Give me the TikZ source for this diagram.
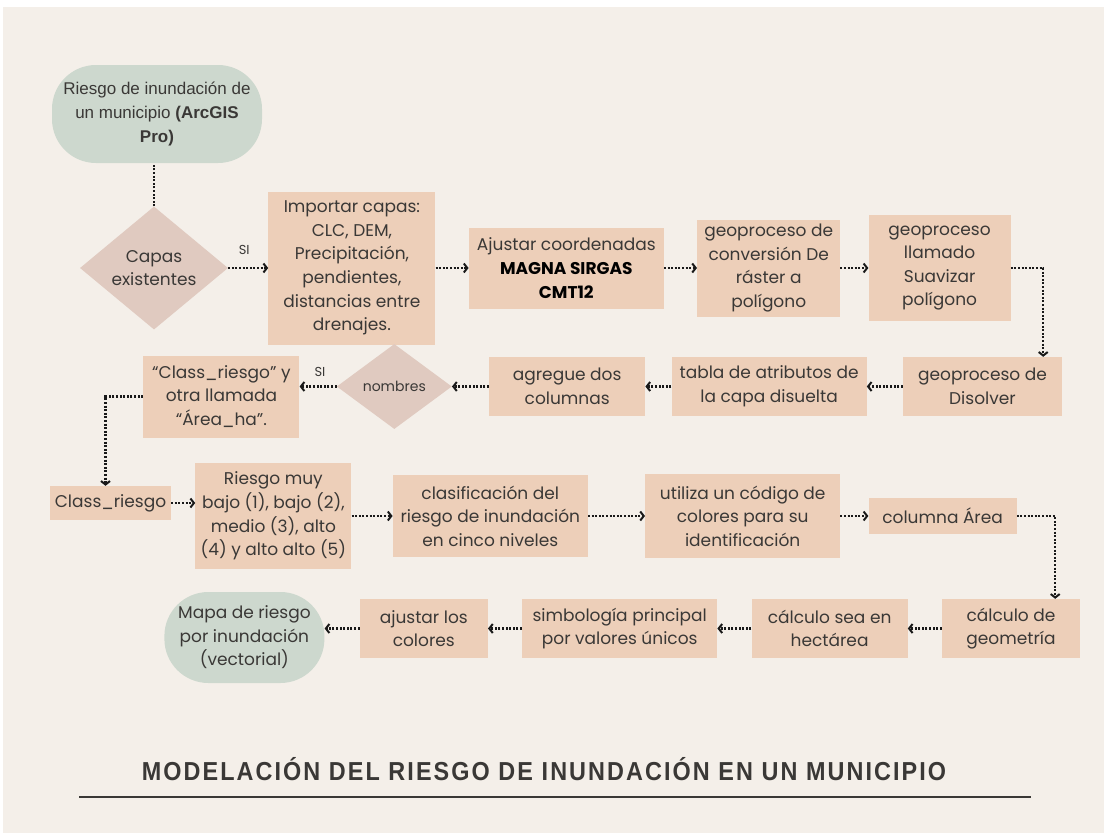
\documentclass[tikz,border=0pt]{standalone}
\usepackage{fontspec}
\setmainfont{Poppins}
\newfontfamily\arialfont{Liberation Sans}
\newfontfamily\titlefont[FakeStretch=0.9,LetterSpace=8]{Liberation Sans}
\usetikzlibrary{positioning, shapes.geometric, arrows.meta}
\definecolor{paper}{HTML}{F4EFE9}
\definecolor{peach}{HTML}{EDCFB9}
\definecolor{rose}{HTML}{E0CAC0}
\definecolor{sage}{HTML}{CDD8CE}
\definecolor{ink}{HTML}{3A3836}
\tikzset{process/.style={rectangle, fill=peach, text=ink, align=center, inner sep=0pt, font=\fontsize{17}{23.6}\selectfont},
         decision/.style={diamond, fill=rose, text=ink, align=center, inner sep=0pt, font=\fontsize{17}{23.6}\selectfont},
         startstop/.style={rectangle, rounded corners=44pt, fill=sage, text=ink, align=center, inner sep=0pt, font=\fontsize{17}{23.6}\selectfont},
         dotline/.style={line width=2.4pt, dash pattern=on 2pt off 1.6pt, draw=black!90},
         flow/.style={dotline, -{Straight Barb[length=3.5pt, width=9pt, line width=2pt]}},
         lbl/.style={text=ink, font=\fontsize{13}{15}\selectfont}}

\begin{document}
\begin{tikzpicture}[x=1pt, y=-1pt]
    \useasboundingbox (0,0) rectangle (1104,833);
    \fill[white] (0,0) rectangle (1104,833);
    \fill[paper] (3,7) rectangle (1104,833);
    % first row
    \node (start)[startstop, minimum width=210pt, minimum height=98pt] at (157,114){\arialfont Riesgo de inundación de\\ \arialfont un municipio \textbf{(ArcGIS}\\ \arialfont\bfseries Pro)};
    \node (capas)[decision, minimum width=148pt, minimum height=123pt] at (154,268){Capas\\existentes};
    \draw [dotline] (capas.north) -- (capas.north |- start.south);
    \node (import)[process, minimum width=167pt, minimum height=153pt, right=40pt of capas]{Importar capas:\\CLC, DEM,\\Precipitación,\\pendientes,\\distancias entre\\drenajes.};
    \draw [flow] (capas) -- node[lbl, above=9pt, pos=0.4]{SI} (import);
    \node (coord)[process, minimum width=195pt, minimum height=81pt, right=33pt of import]{Ajustar coordenadas\\\textbf{\color{black}MAGNA SIRGAS}\\\textbf{\color{black}CMT12}};
    \draw [flow] (import) -- (coord);
    \node (raster)[process, minimum width=143pt, minimum height=97pt, right=33pt of coord]{geoproceso de\\conversión De\\ráster a\\polígono};
    \draw [flow] (coord) -- (raster);
    \node (suave)[process, minimum width=142pt, minimum height=106pt, right=28pt of raster]{geoproceso\\llamado\\Suavizar\\polígono};
    \draw [flow] (raster) -- (suave);
    % second row
    \node (disolver)[process, minimum width=159pt, minimum height=59pt] at (982.5,386.5){geoproceso de\\Disolver};
    \draw [flow] (suave.east) -| ([xshift=-19pt]disolver.north east);
    \node (tabla)[process, minimum width=195pt, minimum height=59pt, left=36pt of disolver]{tabla de atributos de\\la capa disuelta};
    \draw [flow] (disolver) -- (tabla);
    \node (agregue)[process, minimum width=156pt, minimum height=59pt, left=26pt of tabla]{agregue dos\\columnas};
    \draw [flow] (tabla) -- (agregue);
    \node (nombres)[decision, minimum width=115pt, minimum height=85pt, left=37pt of agregue, font=\fontsize{14}{16}\selectfont]{nombres};
    \draw [flow] (agregue) -- (nombres);
    \node (dosnombres)[process, minimum width=156pt, minimum height=82pt, left=37pt of nombres, yshift=-10pt]{“Class\_riesgo” y\\otra llamada\\“Área\_ha”.};
    \draw [flow] (nombres.west) -- node[lbl, above=5pt, pos=0.45]{SI} (nombres.west -| dosnombres.east);
    % third row
    \node (clase)[process, minimum width=121pt, minimum height=34pt] at (110.5,503){Class\_riesgo};
    \draw [flow] (dosnombres.west) -| ([xshift=-5pt]clase.north);
    \node (niveles)[process, minimum width=156pt, minimum height=106pt, right=24pt of clase, yshift=-13pt]{Riesgo muy\\bajo (1), bajo (2),\\medio (3), alto\\(4) y alto alto (5)};
    \draw [flow] (clase.east) -- (clase.east -| niveles.west);
    \node (clasif)[process, minimum width=195pt, minimum height=82pt, right=41pt of niveles]{clasificación del\\riesgo de inundación\\en cinco niveles};
    \draw [flow] (niveles) -- (clasif);
    \node (codigo)[process, minimum width=195pt, minimum height=84pt, right=57pt of clasif]{utiliza un código de\\colores para su\\identificación};
    \draw [flow] (clasif) -- (codigo);
    \node (area)[process, minimum width=148pt, minimum height=36pt, right=28pt of codigo]{columna Área};
    \draw [flow] (codigo) -- (area);
    % fourth row
    \node (geometria)[process, minimum width=138pt, minimum height=59pt] at (1011,628.5){cálculo de\\geometría};
    \draw [flow] (area.east) -| ([xshift=-25pt]geometria.north east);
    \node (hectarea)[process, minimum width=156pt, minimum height=59pt, left=34pt of geometria]{cálculo sea en\\hectárea};
    \draw [flow] (geometria) -- (hectarea);
    \node (simbolo)[process, minimum width=195pt, minimum height=59pt, left=34pt of hectarea]{simbología principal\\por valores únicos};
    \draw [flow] (hectarea) -- (simbolo);
    \node (colores)[process, minimum width=128pt, minimum height=59pt, left=34pt of simbolo]{ajustar los\\colores};
    \draw [flow] (simbolo) -- (colores);
    \node (mapa)[startstop, minimum width=160pt, minimum height=91pt, left=35pt of colores, yshift=-9pt]{Mapa de riesgo\\por inundación\\(vectorial)};
    \draw [flow] (colores.west) -- (colores.west -| mapa.east);
    % title
    \node (titulo)[text=ink, font=\titlefont\bfseries\fontsize{26}{30}\selectfont] at (544,769){MODELACIÓN DEL RIESGO DE INUNDACIÓN EN UN MUNICIPIO};
    \draw [ink, line width=1.5pt] (79,797) -- (1031,797);
\end{tikzpicture}
\end{document}
